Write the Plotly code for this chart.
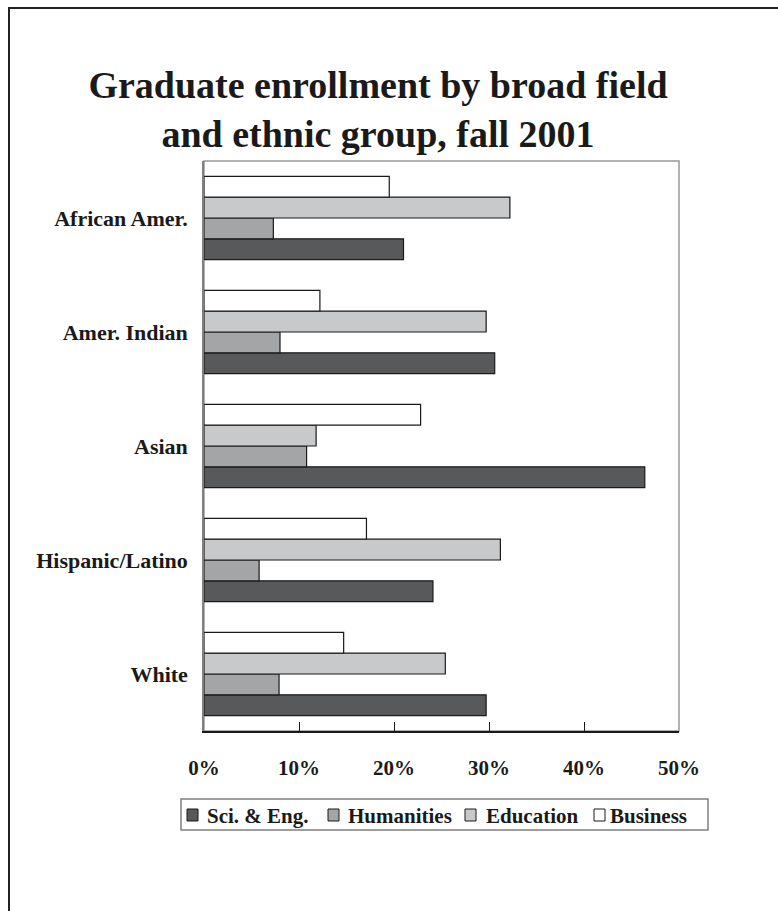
import plotly.graph_objects as go

groups = ["African Amer.", "Amer. Indian", "Asian", "Hispanic/Latino", "White"]
fields = ["Sci. & Eng.", "Humanities", "Education", "Business"]
sci_eng = [21.0, 30.6, 46.4, 24.1, 29.7]
humanities = [7.3, 8.0, 10.8, 5.8, 7.9]
education = [32.2, 29.7, 11.8, 31.2, 25.4]
business = [19.5, 12.2, 22.8, 17.1, 14.7]
x_ticks = [0, 10, 20, 30, 40, 50]
x_tick_labels = ["0%", "10%", "20%", "30%", "40%", "50%"]

series = [sci_eng, humanities, education, business]
colors = ["#58595b", "#a3a5a7", "#c8c9cb", "#ffffff"]

FONT = "Liberation Serif"
INK = "#1a1a1a"

fig = go.Figure()
for name, vals, col in zip(fields, series, colors):
    fig.add_trace(go.Bar(
        y=groups, x=vals, name=name, orientation="h",
        marker=dict(color=col, line=dict(color=INK, width=1.2)),
    ))

W, H = 778, 911
L, R, T, B = 204, 99, 161, 180
pw, ph = W - L - R, H - T - B

def px(xp):
    return (xp - L) / pw

def py(yp):
    return (H - B - yp) / ph

shapes = [
    dict(type="rect", xref="paper", yref="paper", x0=0, x1=1, y0=0, y1=1,
         line=dict(color="#999999", width=1.5), layer="below"),
    dict(type="line", xref="paper", yref="paper",
         x0=px(8), x1=px(778), y0=py(8), y1=py(8),
         line=dict(color="#222222", width=2)),
    dict(type="line", xref="paper", yref="paper",
         x0=px(9), x1=px(9), y0=py(8), y1=py(911),
         line=dict(color="#222222", width=2)),
    # legend frame
    dict(type="rect", xref="paper", yref="paper",
         x0=px(181), x1=px(708), y0=py(799), y1=py(830),
         line=dict(color="#808080", width=1.5), fillcolor="white"),
]
annotations = []

# legend entries (symbol left edge, text left edge)
leg_sym_x = [187, 328, 465, 594]
leg_txt_x = [205, 346, 484, 608]
leg_y = 815
for name, col, sx, tx in zip(fields, colors, leg_sym_x, leg_txt_x):
    shapes.append(dict(type="rect", xref="paper", yref="paper",
                       x0=px(sx), x1=px(sx + 11), y0=py(leg_y + 6), y1=py(leg_y - 6),
                       line=dict(color=INK, width=1), fillcolor=col))
    annotations.append(dict(text="<b>%s</b>" % name, xref="paper", yref="paper",
                            x=px(tx), y=py(leg_y + 1), xanchor="left", yanchor="middle",
                            showarrow=False,
                            font=dict(family=FONT, size=21, color=INK)))

fig.update_layout(
    width=W, height=H,
    margin=dict(l=L, r=R, t=T, b=B),
    paper_bgcolor="white", plot_bgcolor="white",
    barmode="group", bargap=0.27, bargroupgap=0,
    font=dict(family=FONT, color=INK),
    title=dict(
        text="<b>Graduate enrollment by broad field<br>and ethnic group, fall 2001</b>",
        font=dict(family=FONT, size=38, color=INK),
        x=378 / W, xanchor="center", xref="container",
        y=1 - 98 / H, yanchor="top", yref="container",
    ),
    showlegend=False,
    xaxis=dict(
        range=[0, 50], tickvals=x_ticks,
        ticktext=["<b>%s</b>" % t for t in x_tick_labels],
        showgrid=False, zeroline=False,
        showline=True, linecolor=INK, linewidth=1.5,
        ticks="inside", ticklen=9, tickcolor=INK, tickwidth=1.2,
        tickfont=dict(family=FONT, size=21, color=INK),
        ticklabelstandoff=17,
    ),
    yaxis=dict(
        categoryorder="array", categoryarray=groups[::-1],
        tickvals=groups, ticktext=["<b>%s</b>" % g for g in groups],
        showgrid=False, zeroline=False,
        showline=True, linecolor="#808080", linewidth=1.5,
        ticks="", tickfont=dict(family=FONT, size=22, color=INK),
        ticklabelstandoff=10,
    ),
    shapes=shapes,
    annotations=annotations,
)

fig.write_html("out.html")
